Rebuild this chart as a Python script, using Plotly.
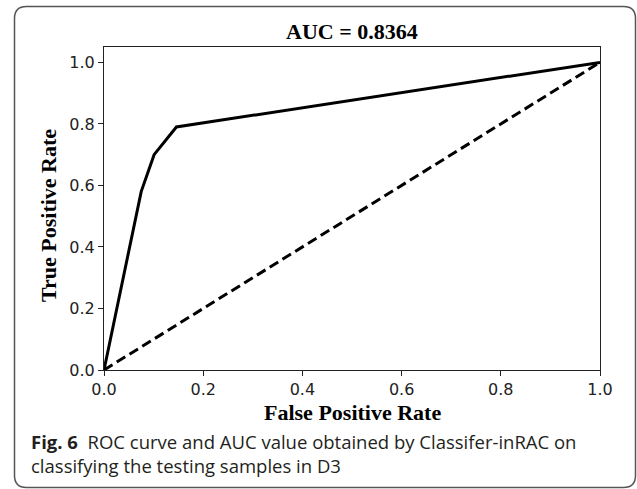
import plotly.graph_objects as go

# Data
fpr = [0.0, 0.075, 0.101, 0.146, 1.0]
tpr = [0.0, 0.58, 0.70, 0.79, 1.0]
diag_x = [0.0, 1.0]
diag_y = [0.0, 1.0]
x_ticks = [0.0, 0.2, 0.4, 0.6, 0.8, 1.0]
y_ticks = [0.0, 0.2, 0.4, 0.6, 0.8, 1.0]
title_text = "AUC = 0.8364"
x_title = "False Positive Rate"
y_title = "True Positive Rate"
caption_bold = "Fig. 6"
caption_line1 = "ROC curve and AUC value obtained by Classifer-inRAC on"
caption_line2 = "classifying the testing samples in D3"

W, H = 637, 489
L, R, T, B = 104, 600, 47, 370  # plot area in pixels


def px(x):
    return (x - L) / (R - L)


def py(y):
    return (B - y) / (B - T)


fig = go.Figure()
fig.add_trace(go.Scatter(x=fpr, y=tpr, mode="lines",
                         line=dict(color="black", width=3), showlegend=False))
fig.add_trace(go.Scatter(x=diag_x, y=diag_y, mode="lines",
                         line=dict(color="black", width=3, dash="10px,5px"),
                         showlegend=False))

axis_common = dict(showline=True, linecolor="#222", linewidth=1, mirror=True,
                   ticks="outside", ticklen=5, tickwidth=1, tickcolor="#222",
                   showgrid=False, zeroline=False,
                   tickfont=dict(family="DejaVu Sans", size=16, color="#222"))
fig.update_xaxes(range=[0, 1], tickvals=x_ticks,
                 ticktext=[f"{v:.1f}" for v in x_ticks], **axis_common)
fig.update_yaxes(range=[0, 1.05], tickvals=y_ticks,
                 ticktext=[f"{v:.1f}" for v in y_ticks], **axis_common)

# rounded border
x0, x1, y0, y1, r = 14.5, 635.5, 6.5, 487.5, 12
path = (f"M {px(x0+r)},{py(y0)} L {px(x1-r)},{py(y0)} "
        f"Q {px(x1)},{py(y0)} {px(x1)},{py(y0+r)} "
        f"L {px(x1)},{py(y1-r)} Q {px(x1)},{py(y1)} {px(x1-r)},{py(y1)} "
        f"L {px(x0+r)},{py(y1)} Q {px(x0)},{py(y1)} {px(x0)},{py(y1-r)} "
        f"L {px(x0)},{py(y0+r)} Q {px(x0)},{py(y0)} {px(x0+r)},{py(y0)} Z")
fig.add_shape(type="path", path=path, xref="paper", yref="paper",
              line=dict(color="#555", width=1.5))

times = "Liberation Serif"
ann = [
    dict(text=f"<b>{title_text}</b>", x=px(352), y=py(31), yanchor="middle",
         xanchor="center", font=dict(family=times, size=22, color="black")),
    dict(text=f"<b>{x_title}</b>", x=px(352), y=py(412), yanchor="middle",
         xanchor="center", font=dict(family=times, size=22, color="black")),
    dict(text=f"<b>{y_title}</b>", x=px(48), y=py(216), textangle=-90,
         xanchor="center", yanchor="middle",
         font=dict(family=times, size=22, color="black")),
    dict(text=f"<b>{caption_bold}</b>  {caption_line1}", x=px(29), y=py(441),
         xanchor="left", yanchor="middle",
         font=dict(family="Open Sans", size=18.5, color="#231f20")),
    dict(text=caption_line2, x=px(29), y=py(466),
         xanchor="left", yanchor="middle",
         font=dict(family="Open Sans", size=18.5, color="#231f20")),
]
for a in ann:
    a.update(xref="paper", yref="paper", showarrow=False)
fig.update_layout(annotations=ann)

fig.update_layout(width=W, height=H, plot_bgcolor="white", paper_bgcolor="white",
                  margin=dict(l=L, r=W - R, t=T, b=H - B), showlegend=False)

fig.write_html("out.html",
               config={"displayModeBar": False},
               post_script="document.body.style.margin='0';"
                           "document.body.style.padding='0';"
                           "document.body.style.overflow='hidden';")
